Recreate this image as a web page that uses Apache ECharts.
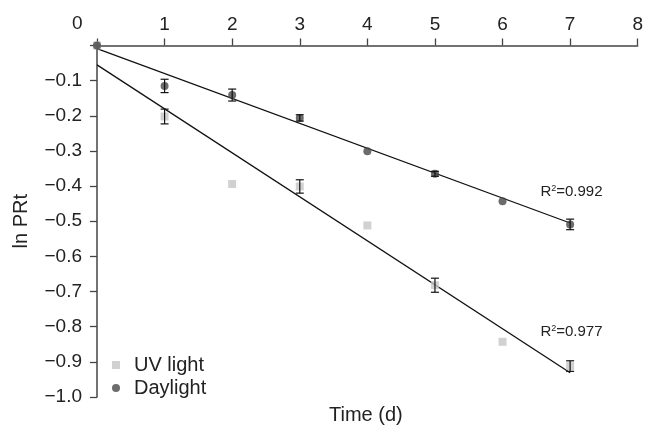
<!DOCTYPE html>
<html>
<head>
<meta charset="utf-8">
<script src="https://cdn.jsdelivr.net/npm/echarts@6/dist/echarts.min.js"></script>
<style>
  html, body { margin: 0; padding: 0; background: #fff; }
</style>
</head>
<body>
<div id="main" style="width: 646px;height:428px;"></div>
<script>
// 时间 (d)
var days = [0, 1, 2, 3, 4, 5, 6, 7];
// ln PRt 数值
var uvValues = [0, -0.202, -0.394, -0.401, -0.512, -0.682, -0.843, -0.912];
var dayValues = [0, -0.115, -0.141, -0.206, -0.301, -0.365, -0.443, -0.509];
// 误差
var uvErr = [0, 0.021, 0, 0.019, 0, 0.02, 0, 0.015];
var dayErr = [0, 0.019, 0.017, 0.009, 0, 0.007, 0, 0.015];
// 回归线两端
var uvFit = [[0, -0.055], [7, -0.931]];
var dayFit = [[0, -0.009], [7, -0.505]];
var r2Labels = [
  { text: '0.992', coord: [7.02, -0.415] },
  { text: '0.977', coord: [7.02, -0.814] }
];

var font = '"Liberation Sans", Arial, sans-serif';
var uvColor = '#c6c6c6';
var dayColor = '#474747';

function pairs(vals) {
  return days.map(function (d, i) { return [d, vals[i]]; });
}
function errData(vals, errs) {
  var out = [];
  days.forEach(function (d, i) {
    if (errs[i] > 0) out.push([d, vals[i] - errs[i], vals[i] + errs[i]]);
  });
  return out;
}
function errRender(params, api) {
  var x = api.value(0);
  var lo = api.coord([x, api.value(1)]);
  var hi = api.coord([x, api.value(2)]);
  var w = 4;
  var st = { stroke: '#111', lineWidth: 1.2 };
  return {
    type: 'group',
    children: [
      { type: 'line', shape: { x1: hi[0], y1: hi[1], x2: lo[0], y2: lo[1] }, style: st },
      { type: 'line', shape: { x1: hi[0] - w, y1: hi[1], x2: hi[0] + w, y2: hi[1] }, style: st },
      { type: 'line', shape: { x1: lo[0] - w, y1: lo[1], x2: lo[0] + w, y2: lo[1] }, style: st }
    ]
  };
}

var chart = echarts.init(document.getElementById('main'));
var option = {
  animation: false,
  textStyle: { fontFamily: font },
  grid: { left: 97, right: 7, top: 45.5, bottom: 31, containLabel: false },
  legend: {
    orient: 'vertical',
    left: 107,
    top: 350,
    itemWidth: 8,
    itemHeight: 8,
    itemGap: 3,
    textStyle: { fontSize: 20, color: '#222', fontFamily: font, padding: [0, 0, 0, 9] },
    data: [
      { name: 'UV light', icon: 'rect' },
      { name: 'Daylight', icon: 'circle' }
    ]
  },
  xAxis: {
    type: 'value',
    position: 'top',
    min: 0,
    max: 8,
    interval: 1,
    splitLine: { show: false },
    axisLine: { onZero: false, lineStyle: { color: '#444', width: 1.5 } },
    axisTick: { inside: false, length: 7, lineStyle: { color: '#444', width: 1.3 } },
    axisLabel: {
      margin: 11,
      fontSize: 19,
      color: '#222',
      formatter: function (v) { return v === 0 ? '' : String(v); }
    }
  },
  yAxis: {
    type: 'value',
    min: -1.0,
    max: 0,
    interval: 0.1,
    name: 'ln PRt',
    nameLocation: 'middle',
    nameGap: 66,
    nameRotate: 90,
    nameTextStyle: { fontSize: 20, color: '#222' },
    splitLine: { show: false },
    axisLine: { onZero: false, lineStyle: { color: '#444', width: 1.5 } },
    axisTick: { length: 7, lineStyle: { color: '#444', width: 1.3 } },
    axisLabel: {
      margin: 15,
      fontSize: 19,
      color: '#222',
      formatter: function (v) {
        if (Math.abs(v) < 1e-9) return '';
        return '\u2212' + Math.abs(v).toFixed(1);
      }
    }
  },
  graphic: [
    { type: 'text', left: 72, top: 14, style: { text: '0', font: '19px ' + font, fill: '#222' } },
    { type: 'text', left: 329, top: 405, style: { text: 'Time (d)', font: '20px ' + font, fill: '#222' } }
  ],
  series: [
    {
      name: 'UV fit',
      type: 'line',
      data: uvFit,
      symbol: 'none',
      silent: true,
      lineStyle: { color: '#111', width: 1.3 },
      z: 2
    },
    {
      name: 'Daylight fit',
      type: 'line',
      data: dayFit,
      symbol: 'none',
      silent: true,
      lineStyle: { color: '#111', width: 1.3 },
      z: 2,
      markPoint: {
        symbol: 'circle',
        symbolSize: 1,
        itemStyle: { color: 'rgba(0,0,0,0)' },
        label: {
          show: true,
          position: 'inside',
          fontSize: 15,
          color: '#222',
          formatter: function (p) { return 'R{s|2}=' + p.name; },
          rich: { s: { fontSize: 9, verticalAlign: 'top', padding: [0, 0, 6, 0] } }
        },
        data: r2Labels.map(function (r) { return { name: r.text, coord: r.coord }; })
      }
    },
    {
      name: 'UV light',
      type: 'scatter',
      data: pairs(uvValues),
      symbol: 'rect',
      symbolSize: 8,
      itemStyle: { color: uvColor },
      z: 3
    },
    {
      name: 'Daylight',
      type: 'scatter',
      data: pairs(dayValues),
      symbol: 'circle',
      symbolSize: 8,
      itemStyle: { color: dayColor },
      z: 4
    },
    {
      type: 'custom',
      renderItem: errRender,
      data: errData(uvValues, uvErr),
      z: 5
    },
    {
      type: 'custom',
      renderItem: errRender,
      data: errData(dayValues, dayErr),
      z: 5
    }
  ]
};
chart.setOption(option);
</script>
</body>
</html>
